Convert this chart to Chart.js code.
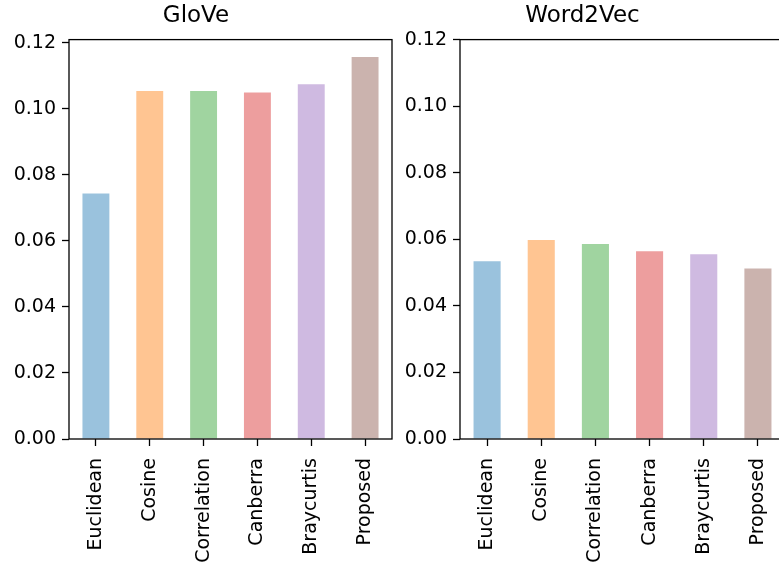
<!DOCTYPE html>
<html>
<head>
<meta charset="utf-8">
<script src="https://cdn.jsdelivr.net/npm/chart.js@4/dist/chart.umd.min.js"></script>
<style>
  html, body { margin: 0; padding: 0; background: #fff; overflow: hidden; width: 779px; height: 565px; }
  .panel { position: absolute; top: 0; height: 565px; }
</style>
</head>
<body>
<div id="chartSection"></div>
<script>
// data
const categories = ["Euclidean", "Cosine", "Correlation", "Canberra", "Braycurtis", "Proposed"];
const gloveValues = [0.0744, 0.1054, 0.1054, 0.1050, 0.1075, 0.1157];
const word2vecValues = [0.0534, 0.0598, 0.0586, 0.0564, 0.0555, 0.0512];
const yTicks = [0, 0.02, 0.04, 0.06, 0.08, 0.10, 0.12];
const tickLabels = ["0.00", "0.02", "0.04", "0.06", "0.08", "0.10", "0.12"];

// tab10 colours, drawn with alpha like the original
const barColors = [
  "rgba(31,119,180,0.45)",
  "rgba(255,127,14,0.45)",
  "rgba(44,160,44,0.45)",
  "rgba(214,39,40,0.45)",
  "rgba(148,103,189,0.45)",
  "rgba(140,86,75,0.45)",
];

const FONT = "'DejaVu Sans', 'Liberation Sans', sans-serif";

// black box round the plot area (matplotlib spines)
const frame = {
  id: "frame",
  afterDatasetsDraw(chart) {
    const { ctx, chartArea: a } = chart;
    ctx.save();
    ctx.strokeStyle = "#000";
    ctx.lineWidth = 1.3;
    ctx.strokeRect(a.left, a.top, a.right - a.left, a.bottom - a.top);
    ctx.restore();
  },
};

function createChart(id, left, width, title, values, yMax, yWidth, padRight) {
  const chartSection = document.getElementById("chartSection");
  const box = document.createElement("div");
  box.className = "panel";
  box.style.left = left + "px";
  box.style.width = width + "px";
  const canvas = document.createElement("canvas");
  canvas.id = id;
  box.appendChild(canvas);
  chartSection.appendChild(box);

  new Chart(canvas, {
    type: "bar",
    data: {
      labels: categories,
      datasets: [
        {
          data: values,
          backgroundColor: barColors,
          borderWidth: 0,
          barPercentage: 0.5,
          categoryPercentage: 1,
        },
      ],
    },
    options: {
      responsive: true,
      maintainAspectRatio: false,
      animation: false,
      layout: { padding: { left: 0, right: padRight, top: 0, bottom: 0 } },
      plugins: {
        legend: { display: false },
        tooltip: { enabled: false },
        title: {
          display: true,
          text: title,
          color: "#000",
          font: { family: FONT, size: 23, weight: "normal" },
          padding: { top: 2, bottom: 10 },
        },
      },
      scales: {
        x: {
          offset: true,
          grid: { offset: false, drawOnChartArea: false, drawTicks: true, tickLength: 7, tickColor: "#000", tickWidth: 1.3 },
          border: { display: false },
          ticks: {
            color: "#000",
            font: { family: FONT, size: 19 },
            minRotation: 90,
            maxRotation: 90,
            padding: 12,
            autoSkip: false,
          },
          afterFit(scale) { scale.height = 126; },
        },
        y: {
          min: 0,
          max: yMax,
          grid: { drawOnChartArea: false, drawTicks: true, tickLength: 7, tickColor: "#000", tickWidth: 1.3 },
          border: { display: false },
          ticks: {
            color: "#000",
            font: { family: FONT, size: 19 },
            padding: 6,
            callback: (v) => tickLabels[yTicks.indexOf(v)],
          },
          afterBuildTicks(scale) { scale.ticks = yTicks.map((v) => ({ value: v })); },
          afterFit(scale) { scale.width = yWidth; },
        },
      },
    },
    plugins: [frame],
  });
}

createChart("glove", 0, 420, "GloVe", gloveValues, 0.121, 69, 28);
createChart("word2vec", 380, 420, "Word2Vec", word2vecValues, 0.12, 80, 15);
</script>
</body>
</html>
